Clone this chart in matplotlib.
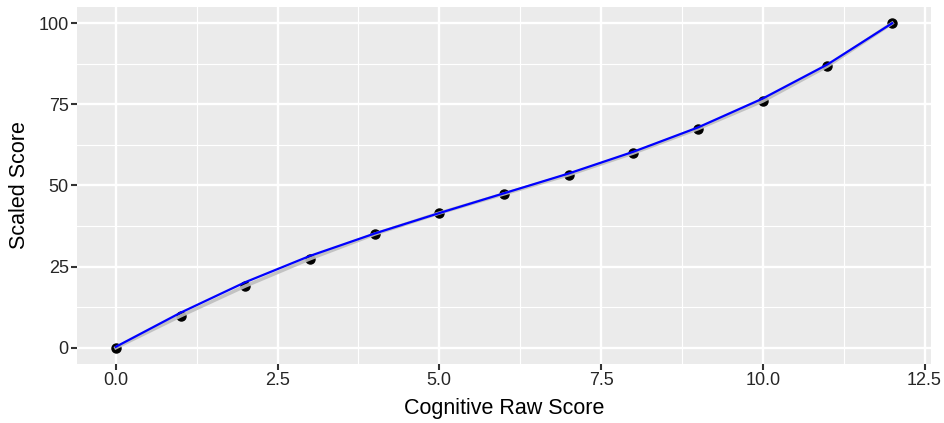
import matplotlib
matplotlib.use("Agg")
import matplotlib.pyplot as plt

raw_score = [0, 1, 2, 3, 4, 5, 6, 7, 8, 9, 10, 11, 12]
scaled_score = [0, 9.8, 19.0, 27.4, 35.0, 41.5, 47.4, 53.3, 60.0, 67.5, 76.0, 86.8, 100]
fitted_score = [0.3, 10.8, 20.2, 28.3, 35.2, 41.5, 47.6, 53.7, 60.4, 67.9, 76.8, 87.3, 100]

x_ticks = [0.0, 2.5, 5.0, 7.5, 10.0, 12.5]
x_labels = ["0.0", "2.5", "5.0", "7.5", "10.0", "12.5"]
y_ticks = [0, 25, 50, 75, 100]
y_labels = ["0", "25", "50", "75", "100"]

plt.rcParams['font.family'] = ['Liberation Sans', 'DejaVu Sans']

fig = plt.figure(figsize=(9.44, 4.23), dpi=100)
ax = fig.add_axes([0.0816, 0.1395, 0.9046, 0.844])
ax.set_facecolor('#EBEBEB')
for s in ax.spines.values():
    s.set_visible(False)

ax.set_xlim(-0.6, 12.6)
ax.set_ylim(-5, 105)
ax.set_xticks(x_ticks)
ax.set_xticklabels(x_labels)
ax.set_yticks(y_ticks)
ax.set_yticklabels(y_labels)
ax.set_xticks([1.25, 3.75, 6.25, 8.75, 11.25], minor=True)
ax.set_yticks([12.5, 37.5, 62.5, 87.5], minor=True)
ax.grid(which='major', color='white', linewidth=1.7)
ax.grid(which='minor', color='white', linewidth=0.8)
ax.set_axisbelow(True)
ax.tick_params(which='major', direction='out', length=4, width=1.5, color='#333333',
               labelcolor='#262626', labelsize=13, pad=2)
ax.tick_params(which='minor', length=0)

ax.plot(raw_score, scaled_score, 'o', color='black', markersize=6.5, zorder=3)
ax.plot(raw_score, scaled_score, color='#BEBEBE', linewidth=2.5, alpha=0.9, zorder=4)
ax.plot(raw_score, fitted_score, color='#0000FF', linewidth=1.6, zorder=5)

ax.set_xlabel("Cognitive Raw Score", fontsize=15.5, labelpad=6, color='black')
ax.set_ylabel("Scaled Score", fontsize=15.5, labelpad=6, color='black')

fig.savefig("out.png", dpi=100)
